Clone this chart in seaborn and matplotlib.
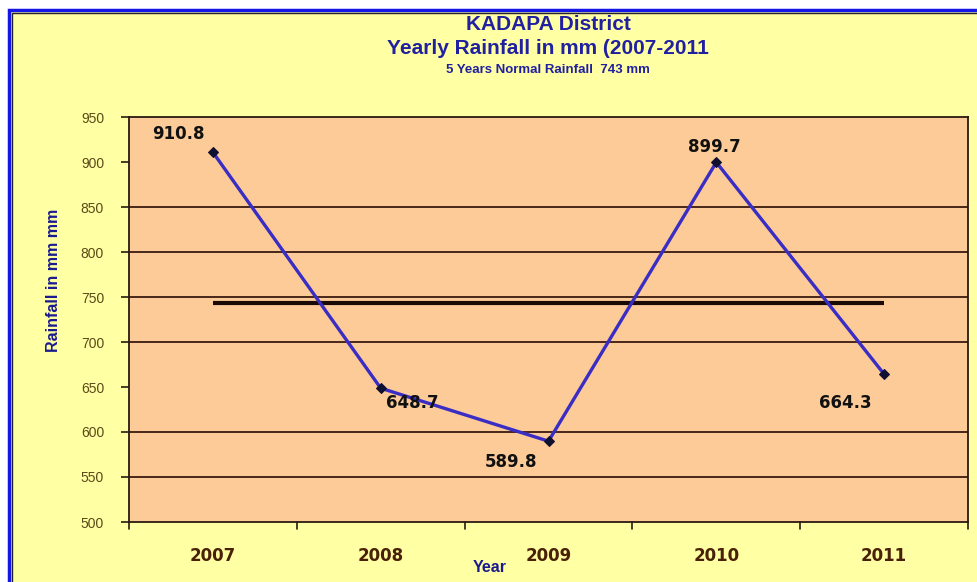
import matplotlib
matplotlib.use("Agg")
import matplotlib.pyplot as plt
import seaborn as sns
import pandas as pd
from matplotlib.patches import Rectangle

years = ["2007", "2008", "2009", "2010", "2011"]
rainfall = [910.8, 648.7, 589.8, 899.7, 664.3]
normal_rainfall = 743
label_texts = ["910.8", "648.7", "589.8", "899.7", "664.3"]
y_ticks = [500, 550, 600, 650, 700, 750, 800, 850, 900, 950]
grid_values = [550, 600, 700, 750, 800, 850]

sns.set_theme(style="white")
fam = ["Liberation Sans Narrow", "Liberation Sans", "DejaVu Sans"]
wide = ["DejaVu Sans"]
plt.rcParams["font.family"] = fam

W, H = 977, 582
fig = plt.figure(figsize=(W / 100, H / 100), dpi=100)
fig.patch.set_facecolor("white")

# figure frame (yellow panel with blue border, cut at right and bottom)
fig.patches.append(Rectangle((9 / W, -10 / H), (W + 20) / W, (H + 10 - 10) / H,
                             transform=fig.transFigure, facecolor="#FFFFA3",
                             edgecolor="#1515E8", linewidth=2.5, zorder=-5))
fig.patches.append(Rectangle((12 / W, -10 / H), (W + 20) / W, (H + 10 - 13) / H,
                             transform=fig.transFigure, facecolor="none",
                             edgecolor="#202030", linewidth=1, zorder=-4))

ax = fig.add_axes([129 / W, 1 - 522 / H, (968 - 129) / W, (522 - 117) / H])
ax.set_zorder(2)
ax.set_facecolor("#FDCB98")

df = pd.DataFrame({"Year": years, "Rainfall": rainfall})

for g in grid_values:
    ax.axhline(g, color="#3A1A10", linewidth=1.3, zorder=1)

ax.plot([0, 4], [normal_rainfall, normal_rainfall], color="#1A0A05",
        linewidth=3, solid_capstyle="butt", zorder=2)

sns.lineplot(data=df, x="Year", y="Rainfall", ax=ax, color="#3A2DC4",
             linewidth=2.4, marker="D", markersize=5,
             markerfacecolor="#101030", markeredgecolor="#101030", zorder=3)

offsets = [(-25, 13), (23, -11), (-27, -15), (-1.5, 11), (-28, -21)]
for i, (v, t) in enumerate(zip(rainfall, label_texts)):
    ax.annotate(t, (i, v), xytext=offsets[i], textcoords="offset points",
                ha="center", va="center", fontsize=12, fontweight="bold",
                color="#111111", family=wide)

ax.set_xlim(-0.5, 4.5)
ax.set_ylim(500, 950)
ax.set_yticks(y_ticks)
ax.set_yticklabels([str(t) for t in y_ticks], fontsize=10, color="#5A4A18")
ax.set_xticks(range(len(years)))
ax.set_xticklabels(years, fontsize=12, fontweight="bold", color="#4A2008",
                   family=wide)
ax.tick_params(axis="x", length=0, pad=18)
ax.tick_params(axis="y", length=6, width=1.2, color="#2A1A10", pad=12, left=True)
# category boundary ticks
for b in [-0.5, 0.5, 1.5, 2.5, 3.5, 4.5]:
    ax.plot([b, b], [500, 492], color="#2A1A10", linewidth=1.2,
            clip_on=False, transform=ax.transData)

for s in ax.spines.values():
    s.set_visible(True)
    s.set_color("#2A1A10")
    s.set_linewidth(1.3)

ax.set_xlabel("")
ax.set_ylabel("")
fig.text(490 / W, 1 - 567 / H, "Year", ha="center", va="center",
         fontsize=11.5, fontweight="bold", color="#1A1A90", family=fam)
fig.text(54 / W, 1 - 280 / H, "Rainfall in mm mm", ha="center", va="center",
         rotation=90, fontsize=11.5, fontweight="bold", color="#1A1A90", family=fam)

cx = 548 / W
fig.text(cx, 1 - 24 / H, "KADAPA District", ha="center", va="center",
         fontsize=15, fontweight="bold", color="#2020A0", family=fam)
fig.text(cx, 1 - 48 / H, "Yearly Rainfall in mm (2007-2011", ha="center",
         va="center", fontsize=15, fontweight="bold", color="#2020A0", family=fam)
fig.text(cx, 1 - 70 / H, "5 Years Normal Rainfall  743 mm", ha="center",
         va="center", fontsize=9.5, fontweight="bold", color="#2020A0", family=fam)

fig.savefig("out.png", dpi=100, facecolor=fig.get_facecolor())
